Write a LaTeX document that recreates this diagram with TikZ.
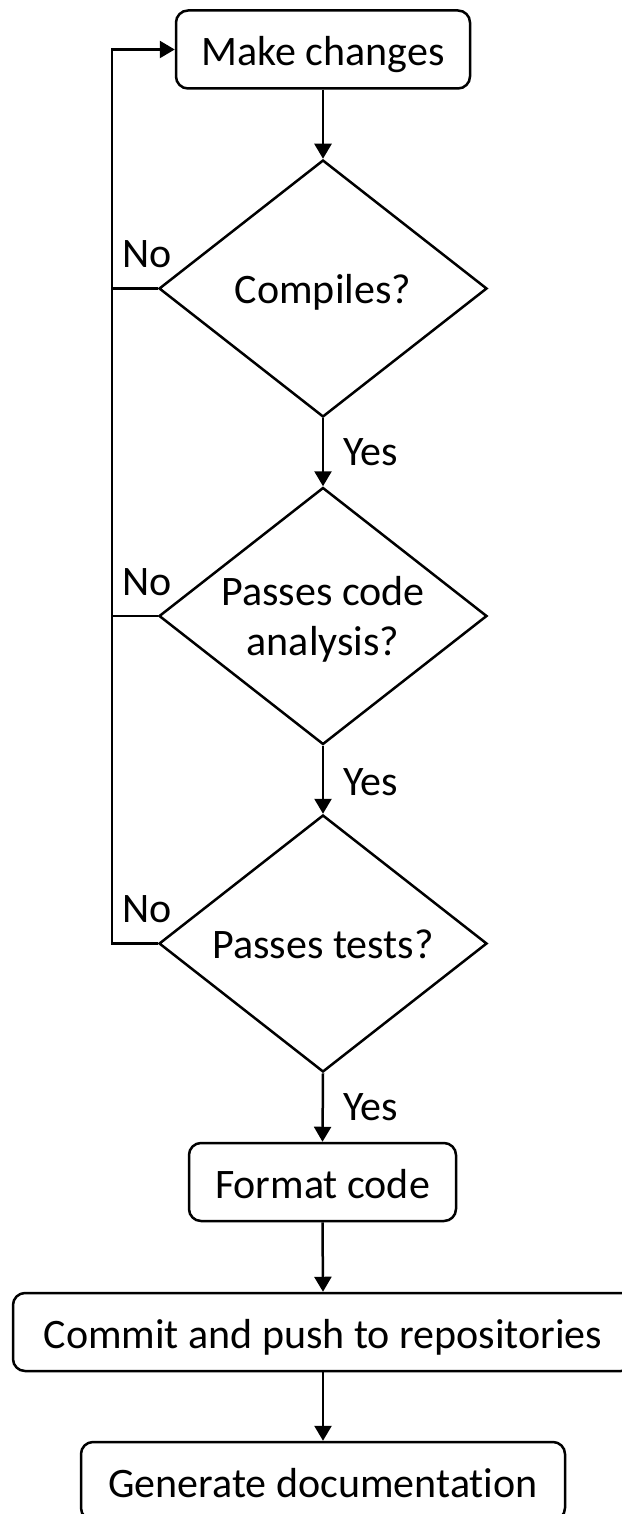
\documentclass[tikz,border=0pt]{standalone}
\usepackage{fontspec}
\setmainfont{Carlito}[Ligatures={NoCommon}]
\usetikzlibrary{shapes.geometric,arrows.meta}
\tikzset{
  ln/.style={line width=2.5pt, draw=black},
  arr/.style={ln, -{Triangle[length=15pt,width=17pt]}},
  procbox/.style={ln, rectangle, rounded corners=12pt, minimum height=78pt, inner sep=0pt,
    font=\fontsize{42pt}{50pt}\selectfont, text height=32pt, text depth=0pt},
  decbox/.style={ln, diamond, minimum width=328pt, minimum height=257pt, inner sep=0pt},
  txt/.style={font=\fontsize{42pt}{50pt}\selectfont, inner sep=0pt},
}
\begin{document}
\begin{tikzpicture}[x=1pt,y=-1pt]
\useasboundingbox (0,0) rectangle (621,1514);
\fill[white] (0,0) rectangle (621,1514);
% process boxes
\node[procbox, minimum width=294pt] (mk) at (323,49.5) {Make changes};
\node[procbox, minimum width=267pt] (fmt) at (322.5,1182) {Format code};
\node[procbox, minimum width=620pt] (cmt) at (323,1332) {Commit and push to repositories};
\node[procbox, minimum width=484pt] (gen) at (323,1481) {Generate documentation};
% decisions
\node[decbox] (d1) at (323,288.5) {};
\node[decbox] (d2) at (323,616) {};
\node[decbox] (d3) at (323,943.5) {};
\node[txt, anchor=base] (t1) at (323,303.5) {Compiles?};
\node[txt, anchor=base] (t2a) at (323,605) {Passes code};
\node[txt, anchor=base] (t2b) at (323,655) {analysis?};
\node[txt, anchor=base] (t3) at (323,958.5) {Passes tests?};
% labels
\node[txt, anchor=base west] (no1) at (122,267) {No};
\node[txt, anchor=base west] (no2) at (122,595) {No};
\node[txt, anchor=base west] (no3) at (122,922) {No};
\node[txt, anchor=base west] (y1) at (343,465) {Yes};
\node[txt, anchor=base west] (y2) at (343,795) {Yes};
\node[txt, anchor=base west] (y3) at (343,1120) {Yes};
% connectors
\coordinate (lx) at (112,0);
\draw[arr] (mk.south) -- (d1.north);
\draw[arr] (d1.south) -- (d2.north);
\draw[arr] (d2.south) -- (d3.north);
\draw[arr] (d3.south) -- (fmt.north);
\draw[arr] (fmt.south) -- (cmt.north);
\draw[arr] (cmt.south) -- (gen.north);
\draw[ln] (d1.west) -- (d1.west -| lx);
\draw[ln] (d2.west) -- (d2.west -| lx);
\draw[arr] (d3.west) -- (d3.west -| lx) |- (mk.west);
\end{tikzpicture}
\end{document}
